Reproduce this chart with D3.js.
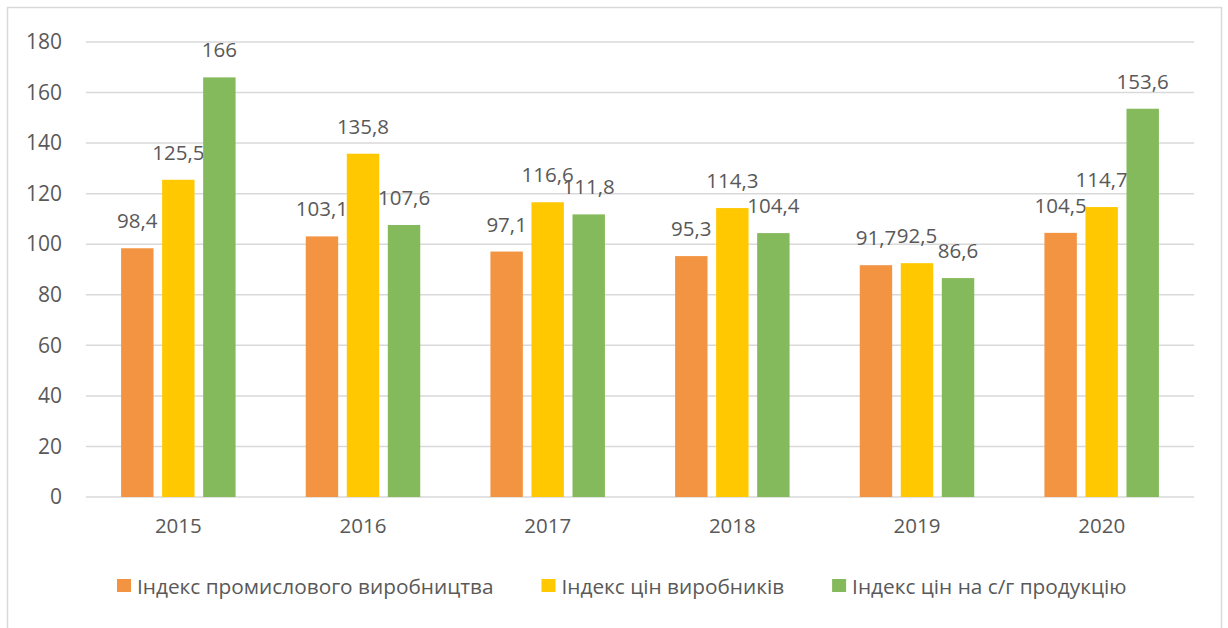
<!DOCTYPE html>
<html>
<head>
<meta charset="utf-8">
<script src="https://cdn.jsdelivr.net/npm/d3@7"></script>
<style>
  body { margin: 0; background: #fff; }
  text { font-family: 'Open Sans', sans-serif; fill: #595959; }
</style>
</head>
<body>
<div id="chart"></div>
<script>
// data
var years = ['2015', '2016', '2017', '2018', '2019', '2020']
var seriesNames = ['Індекс промислового виробництва', 'Індекс цін виробників', 'Індекс цін на с/г продукцію']
var industrial = [98.4, 103.1, 97.1, 95.3, 91.7, 104.5]
var producerPrices = [125.5, 135.8, 116.6, 114.3, 92.5, 114.7]
var agroPrices = [166, 107.6, 111.8, 104.4, 86.6, 153.6]
var yTicks = [0, 20, 40, 60, 80, 100, 120, 140, 160, 180]
var colors = ['#F39443', '#FFC800', '#84BA5B']

var width = 1228
var height = 628
var margin = { top: 42, bottom: 131, left: 86, right: 34 }

var svg = d3
  .select('#chart')
  .append('svg')
  .attr('width', width)
  .attr('height', height)

// chart border
svg
  .append('rect')
  .attr('x', 7.5)
  .attr('y', 7.5)
  .attr('width', 1214)
  .attr('height', 640)
  .attr('fill', 'none')
  .attr('stroke', '#D9D9D9')
  .attr('stroke-width', 1.5)

var g = svg
  .append('g')
  .attr('transform', 'translate(' + margin.left + ',' + margin.top + ')')

var innerW = width - margin.left - margin.right
var innerH = height - margin.top - margin.bottom

var x = d3.scaleBand().domain(years).range([0, innerW])
var series = [industrial, producerPrices, agroPrices]
var x1 = d3
  .scaleBand()
  .domain([0, 1, 2])
  .range([x.bandwidth() * 0.19, x.bandwidth() * 0.81])
  .paddingInner(0.21)
var y = d3.scaleLinear().domain([0, 180]).range([innerH, 0])

// gridlines
g.append('g')
  .selectAll('line')
  .data(yTicks)
  .enter()
  .append('line')
  .attr('x1', 0)
  .attr('x2', innerW)
  .attr('y1', d => y(d))
  .attr('y2', d => y(d))
  .attr('stroke', '#D9D9D9')
  .attr('stroke-width', 1.5)

// y axis labels
var yAxis = g
  .append('g')
  .attr('class', 'y-axis')
  .call(d3.axisLeft(y).tickValues(yTicks).tickSize(0).tickPadding(24))
yAxis.select('.domain').remove()
yAxis
  .selectAll('text')
  .attr('font-size', 21)
  .attr('font-family', 'Open Sans, sans-serif')
  .attr('fill', '#595959')

// x axis labels
var xAxis = g
  .append('g')
  .attr('transform', 'translate(0,' + innerH + ')')
  .call(d3.axisBottom(x).tickSize(0).tickPadding(21))
xAxis.select('.domain').remove()
xAxis
  .selectAll('text')
  .attr('font-size', 20.5)
  .attr('font-family', 'Open Sans, sans-serif')
  .attr('fill', '#595959')

// bars
years.forEach((yr, i) => {
  var grp = g.append('g').attr('transform', 'translate(' + x(yr) + ',0)')
  series.forEach((s, k) => {
    grp
      .append('rect')
      .attr('x', x1(k))
      .attr('y', y(s[i]))
      .attr('width', x1.bandwidth())
      .attr('height', innerH - y(s[i]))
      .attr('fill', colors[k])
    grp
      .append('text')
      .attr('x', x1(k) + x1.bandwidth() / 2)
      .attr('y', y(s[i]) - 20)
      .attr('text-anchor', 'middle')
      .attr('font-size', 20.5)
      .text(String(s[i]).replace('.', ','))
  })
})

// legend, laid out one after another
var legend = svg.append('g')
var lx = 117
seriesNames.forEach((name, k) => {
  legend
    .append('rect')
    .attr('x', lx)
    .attr('y', 579)
    .attr('width', 14)
    .attr('height', 13)
    .attr('fill', colors[k])
  var t = legend
    .append('text')
    .attr('x', lx + 20)
    .attr('y', 594)
    .attr('font-size', 20.8)
    .text(name)
  lx += 20 + t.node().getComputedTextLength() + 48
})
</script>
</body>
</html>
